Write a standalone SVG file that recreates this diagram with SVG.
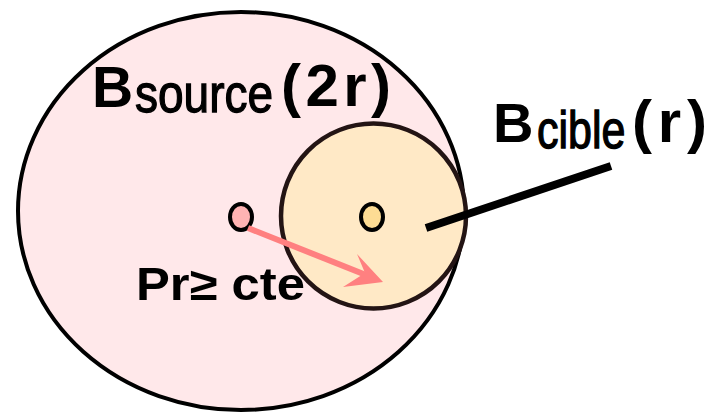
<svg xmlns="http://www.w3.org/2000/svg" width="715" height="420" viewBox="0 0 715 420">
  <style>
    text { font-family: "Liberation Sans", Arial, sans-serif; fill: #000; font-weight: bold; }
    .sub { font-weight: normal; stroke: #000; stroke-width: 1.1; }
  </style>
  <rect width="715" height="420" fill="#ffffff"/>
  <g id="source">
    <ellipse cx="241" cy="211" rx="223" ry="199" fill="#ffe8ea" stroke="#000" stroke-width="4"/>
    <text x="92" y="107" font-size="57">B</text>
    <text transform="translate(135,112) scale(1,1.17)" class="sub" font-size="46">source</text>
    <text x="281" y="106" font-size="60" textLength="110" lengthAdjust="spacing">(2r)</text>
  </g>
  <g id="cible">
    <circle cx="373.5" cy="216" r="92.5" fill="#ffe9c6" stroke="#231414" stroke-width="4.5"/>
    <text x="493" y="142" font-size="56">B</text>
    <text transform="translate(537,148) scale(1,1.2)" class="sub" font-size="43">cible</text>
    <text x="632" y="142" font-size="60" textLength="75" lengthAdjust="spacing">(r)</text>
  </g>
  <g id="source-point">
    <ellipse cx="241" cy="217" rx="11" ry="13" fill="#ffb3b3" stroke="#000" stroke-width="4"/>
  </g>
  <g id="cible-point">
    <ellipse cx="372" cy="217" rx="11" ry="13" fill="#fddc94" stroke="#000" stroke-width="4"/>
  </g>
  <g id="connectors">
    <line x1="248" y1="228" x2="366" y2="275" stroke="#ff8080" stroke-width="6"/>
    <polygon points="383,282 357,254 365,273 343,287" fill="#ff8080"/>
    <line x1="426" y1="228" x2="611" y2="166" stroke="#000" stroke-width="8"/>
  </g>
  <g id="label-pr">
    <text x="136" y="300" font-size="46" textLength="169" lengthAdjust="spacingAndGlyphs">Pr≥ cte</text>
  </g>
</svg>
